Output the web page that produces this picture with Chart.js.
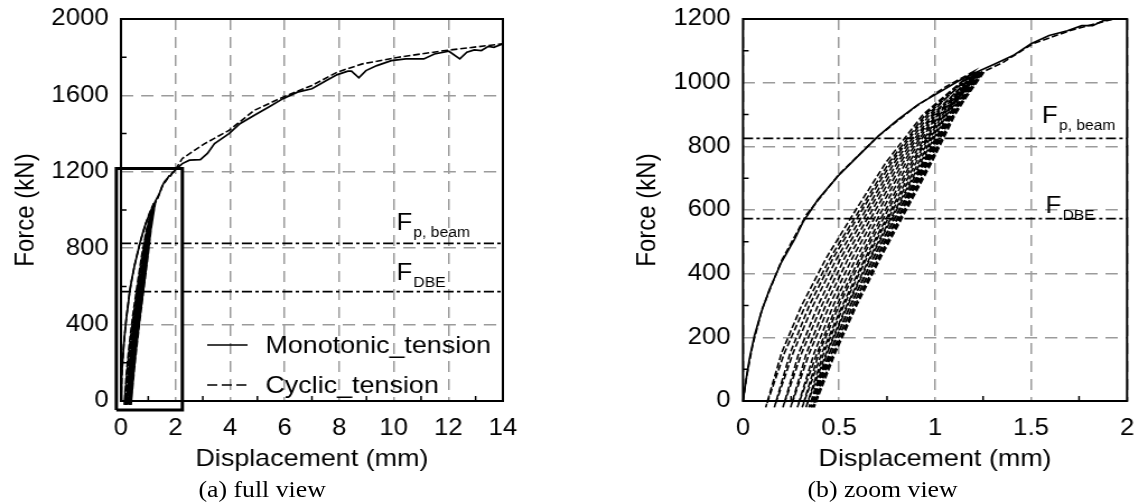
<!DOCTYPE html>
<html>
<head>
<meta charset="utf-8">
<script src="https://cdn.jsdelivr.net/npm/chart.js@4.4.0/dist/chart.umd.min.js"></script>
<style>
  html, body { margin: 0; padding: 0; background: #fff; overflow: hidden; }
  /* the reference is drawn slightly wide, so the whole stage is stretched */
  #stage { position: absolute; left: 0; top: 0; width: 1017px; height: 504px; transform: scaleX(1.12); transform-origin: 0 0; }
  canvas { position: absolute; top: 0; }
  #c1 { left: 0; }
  #c2 { left: 509px; }
  .caption { position: absolute; top: 476px; width: 220px; text-align: center; font: 23px "Liberation Serif", "Times New Roman", serif; line-height: 28px; color: #000; }
</style>
</head>
<body>
<div id="stage">
  <canvas id="c1" width="509" height="504"></canvas>
  <canvas id="c2" width="508" height="504"></canvas>
  <div class="caption" style="left:124px">(a) full view</div>
  <div class="caption" style="left:678px">(b) zoom view</div>
</div>
<script>
// Monotonic test
const monoDisp = [0, 0.016, 0.033, 0.059, 0.094, 0.138, 0.199, 0.268, 0.312, 0.39, 0.495, 0.6, 0.704, 0.808, 0.913, 1.017, 1.122, 1.209,
  1.311, 1.406, 1.5, 1.594, 1.689, 1.764, 1.821, 1.877, 1.934, 1.99, 2.25, 2.51, 2.91, 3.17, 3.43, 3.96, 4.36, 4.89, 5.42, 5.94,
  6.47, 7.0, 7.53, 7.93, 8.32, 8.45, 8.72, 8.98, 9.38, 9.91, 10.44, 11.1, 11.49, 12.02, 12.42, 12.68, 12.95, 13.21, 13.47, 13.67, 14.0];
const monoForce = [0, 68, 131, 204, 277, 351, 435, 508, 562, 633, 707, 770, 832, 885, 932, 968, 1005, 1031,
  1059, 1085, 1122, 1148, 1163, 1179, 1179, 1195, 1200, 1210, 1243, 1261, 1264, 1296, 1348, 1400, 1452, 1496, 1539, 1583,
  1617, 1635, 1678, 1709, 1727, 1727, 1692, 1730, 1756, 1782, 1791, 1791, 1817, 1831, 1791, 1826, 1838, 1835, 1857, 1852, 1870];

// Cyclic test: first loading, then unload / reload branches, then the envelope
const cycFirstDisp = [0, 0.02, 0.05, 0.1, 0.2, 0.33, 0.5, 0.7, 0.9, 1.05, 1.2];
const cycFirstForce = [0, 80, 175, 290, 440, 585, 712, 830, 925, 985, 1035];
const loopLevels = [-20, 150, 300, 450, 600, 750, 900];
const reloadDisp = [
  [0.118, 0.20, 0.305, 0.434, 0.587, 0.745, 0.937],
  [0.163, 0.245, 0.345, 0.47, 0.62, 0.775, 0.96],
  [0.208, 0.29, 0.39, 0.51, 0.655, 0.805, 0.985],
  [0.248, 0.33, 0.43, 0.55, 0.69, 0.835, 1.005],
  [0.283, 0.37, 0.47, 0.59, 0.725, 0.865, 1.025],
  [0.308, 0.395, 0.5, 0.62, 0.755, 0.89, 1.04],
  [0.328, 0.42, 0.525, 0.645, 0.78, 0.915, 1.055],
  [0.343, 0.437, 0.545, 0.665, 0.8, 0.935, 1.07],
  [0.353, 0.45, 0.56, 0.68, 0.815, 0.95, 1.08],
  [0.363, 0.462, 0.572, 0.695, 0.83, 0.965, 1.09],
  [0.370, 0.472, 0.583, 0.708, 0.843, 0.977, 1.10]
];
const unloadDisp = [
  [0.118, 0.215, 0.325, 0.455, 0.607, 0.762, 0.95],
  [0.163, 0.26, 0.365, 0.49, 0.64, 0.79, 0.972],
  [0.208, 0.305, 0.41, 0.53, 0.673, 0.82, 0.995],
  [0.248, 0.345, 0.45, 0.57, 0.708, 0.85, 1.015],
  [0.283, 0.385, 0.488, 0.608, 0.742, 0.878, 1.033],
  [0.308, 0.41, 0.517, 0.637, 0.77, 0.902, 1.048],
  [0.328, 0.433, 0.54, 0.66, 0.793, 0.926, 1.062],
  [0.343, 0.449, 0.558, 0.678, 0.812, 0.945, 1.076],
  [0.353, 0.461, 0.572, 0.692, 0.826, 0.959, 1.086],
  [0.363, 0.472, 0.583, 0.706, 0.84, 0.973, 1.095],
  [0.370, 0.48, 0.592, 0.717, 0.851, 0.984, 1.105]
];
const loopPeakDisp = [1.20, 1.21, 1.215, 1.22, 1.225, 1.23, 1.235, 1.24, 1.245, 1.25, 1.26];
const loopPeakForce = [1035, 1033, 1030, 1032, 1035, 1033, 1036, 1034, 1037, 1035, 1037];
const cycEnvDisp = [1.35, 1.509, 1.7, 2.0, 2.25, 3.04, 3.96, 4.89, 5.94, 7.0, 7.93, 8.85, 10.17, 11.89, 14];
const cycEnvForce = [1062, 1122, 1163, 1212, 1270, 1345, 1417, 1522, 1591, 1652, 1722, 1765, 1800, 1835, 1870];

// Reference forces
const refForce = [825, 573];
const refSub = ['p, beam', 'DBE'];

// Zoom window marked on the full view
const boxDisp = [-0.17, 2.25];
const boxForce = [-47, 1217];

// Axes
const fullXTicks = [0, 2, 4, 6, 8, 10, 12, 14];
const fullYTicks = [0, 400, 800, 1200, 1600, 2000];
const fullXMinor = [1, 3, 5, 7, 9, 11, 13];
const fullYMinor = [200, 600, 1000, 1400, 1800];
const zoomXTicks = [0, 0.5, 1, 1.5, 2];
const zoomYTicks = [0, 200, 400, 600, 800, 1000, 1200];
const zoomXMinor = [0.25, 0.75, 1.25, 1.75];
const zoomYMinor = [100, 300, 500, 700, 900, 1100];

const sans = '"Liberation Sans", Arial, sans-serif';

function pts(xs, ys) {
  return xs.map((x, i) => ({ x, y: ys[i] }));
}

function cyclicPath() {
  const path = pts(cycFirstDisp, cycFirstForce);
  reloadDisp.forEach((xs, k) => {
    const peak = { x: loopPeakDisp[k], y: loopPeakForce[k] };
    // unload from the last peak down to the residual, then reload up to the new peak
    path.push(...pts(unloadDisp[k], loopLevels).reverse());
    path.push(...pts(xs, loopLevels).slice(1), peak);
  });
  return path.concat(pts(cycEnvDisp, cycEnvForce));
}

function boxPath() {
  const [x0, x1] = boxDisp, [y0, y1] = boxForce;
  return [{ x: x0, y: y0 }, { x: x1, y: y0 }, { x: x1, y: y1 }, { x: x0, y: y1 }, { x: x0, y: y0 }];
}

const framePlugin = {
  id: 'frame',
  afterDatasetsDraw(chart, args, opts) {
    const { ctx, chartArea: a, scales: { x, y } } = chart;
    ctx.save();
    ctx.strokeStyle = '#000';
    ctx.lineWidth = 1.5;
    ctx.beginPath();
    opts.x.forEach(v => { const p = x.getPixelForValue(v); ctx.moveTo(p, a.bottom); ctx.lineTo(p, a.bottom - 5); });
    opts.y.forEach(v => { const p = y.getPixelForValue(v); ctx.moveTo(a.left, p); ctx.lineTo(a.left + 5, p); });
    ctx.stroke();
    ctx.lineWidth = 2;
    ctx.strokeRect(a.left, a.top, a.right - a.left, a.bottom - a.top);
    ctx.restore();
  }
};

const refLabelPlugin = {
  id: 'refLabels',
  afterDatasetsDraw(chart, args, opts) {
    const { ctx, scales: { x, y } } = chart;
    ctx.save();
    ctx.fillStyle = '#000';
    ctx.textBaseline = 'alphabetic';
    opts.at.forEach((p, i) => {
      const px = x.getPixelForValue(p[0]), py = y.getPixelForValue(p[1]);
      ctx.font = '23px ' + sans;
      ctx.fillText('F', px, py);
      const w = ctx.measureText('F').width;
      ctx.font = '14px ' + sans;
      ctx.fillText(refSub[i], px + w + 1, py + 7);
    });
    ctx.restore();
  }
};

const legendPlugin = {
  id: 'boxLegend',
  afterDatasetsDraw(chart, args, opts) {
    if (!opts.show) return;
    const { ctx, chartArea: a } = chart;
    const items = chart.data.datasets.filter(d => d.inLegend);
    ctx.save();
    ctx.fillStyle = '#000';
    ctx.strokeStyle = '#000';
    ctx.lineWidth = 1.6;
    ctx.font = '24px ' + sans;
    ctx.textBaseline = 'middle';
    items.forEach((d, i) => {
      const yy = a.bottom - 56 + i * 40;
      ctx.setLineDash(i ? [9, 4] : []);
      ctx.beginPath();
      ctx.moveTo(a.left + 77, yy);
      ctx.lineTo(a.left + 113, yy);
      ctx.stroke();
      ctx.setLineDash([]);
      ctx.fillText(d.label, a.left + 129, yy + 1);
    });
    ctx.restore();
  }
};

function makeChart(id, cfg) {
  const tickFont = { family: sans, size: 23 };
  const titleFont = { family: sans, size: 24 };
  const datasets = [
    { label: 'Monotonic_tension', inLegend: true, data: pts(monoDisp, monoForce), borderColor: '#000', borderWidth: 1.7 },
    { label: 'Cyclic_tension', inLegend: true, data: cyclicPath(), borderColor: '#000', borderWidth: 1.6, borderDash: [6, 2.5],
      clip: { left: 2, top: 0, right: 0, bottom: 8 } },
    ...refForce.map(f => ({ label: 'ref', data: [{ x: cfg.xMin, y: f }, { x: cfg.xMax, y: f }],
      borderColor: '#000', borderWidth: 1.8, borderDash: [9, 3, 3, 3] }))
  ];
  if (cfg.box) {
    datasets.push({ label: 'box', data: boxPath(), borderColor: '#000', borderWidth: 3, clip: false });
  }
  datasets.forEach(d => { d.showLine = true; d.pointRadius = 0; d.fill = false; d.tension = 0; });

  return new Chart(document.getElementById(id), {
    type: 'scatter',
    data: { datasets },
    plugins: [framePlugin, refLabelPlugin, legendPlugin],
    options: {
      responsive: false,
      devicePixelRatio: 1,
      animation: false,
      events: [],
      layout: { padding: { left: cfg.padLeft, right: cfg.padRight, top: 19, bottom: 0 } },
      plugins: {
        legend: { display: false },
        tooltip: { enabled: false },
        frame: { x: cfg.xMinor, y: cfg.yMinor },
        refLabels: { at: cfg.labels },
        boxLegend: { show: !!cfg.box }
      },
      scales: {
        x: {
          type: 'linear', min: cfg.xMin, max: cfg.xMax,
          afterBuildTicks: s => { s.ticks = cfg.xTicks.map(v => ({ value: v })); },
          afterFit: s => { s.height = 103; s.paddingLeft = 0; s.paddingRight = 0; },
          grid: { color: '#9b9b9b', lineWidth: 1.5, drawTicks: false },
          border: { display: false, dash: [11, 7] },
          ticks: { color: '#000', font: tickFont, padding: 14, autoSkip: false, maxRotation: 0, callback: v => String(v) },
          title: { display: true, text: 'Displacement (mm)', color: '#000', font: titleFont, padding: { top: 0, bottom: 30 } }
        },
        y: {
          type: 'linear', min: cfg.yMin, max: cfg.yMax,
          afterBuildTicks: s => { s.ticks = cfg.yTicks.map(v => ({ value: v })); },
          afterFit: s => { s.width = cfg.yWidth; s.paddingTop = 0; s.paddingBottom = 0; },
          grid: { color: '#9b9b9b', lineWidth: 1.5, drawTicks: false },
          border: { display: false, dash: [11, 7] },
          ticks: { color: '#000', font: tickFont, padding: 11, autoSkip: false, callback: v => String(v) },
          title: { display: true, text: 'Force (kN)', color: '#000', font: titleFont, padding: { top: 9, bottom: 0 } }
        }
      }
    }
  });
}

makeChart('c1', {
  xMin: 0, xMax: 14, yMin: 0, yMax: 2000,
  xTicks: fullXTicks, yTicks: fullYTicks, xMinor: fullXMinor, yMinor: fullYMinor,
  padLeft: 0, padRight: 60, yWidth: 108, box: true,
  labels: [[10.1, 895], [10.1, 633]]
});

makeChart('c2', {
  xMin: 0, xMax: 2, yMin: 0, yMax: 1200,
  xTicks: zoomXTicks, yTicks: zoomYTicks, xMinor: zoomXMinor, yMinor: zoomYMinor,
  padLeft: 46, padRight: 10.7, yWidth: 108.4, box: false,
  labels: [[1.557, 872], [1.576, 590]]
});
</script>
</body>
</html>
